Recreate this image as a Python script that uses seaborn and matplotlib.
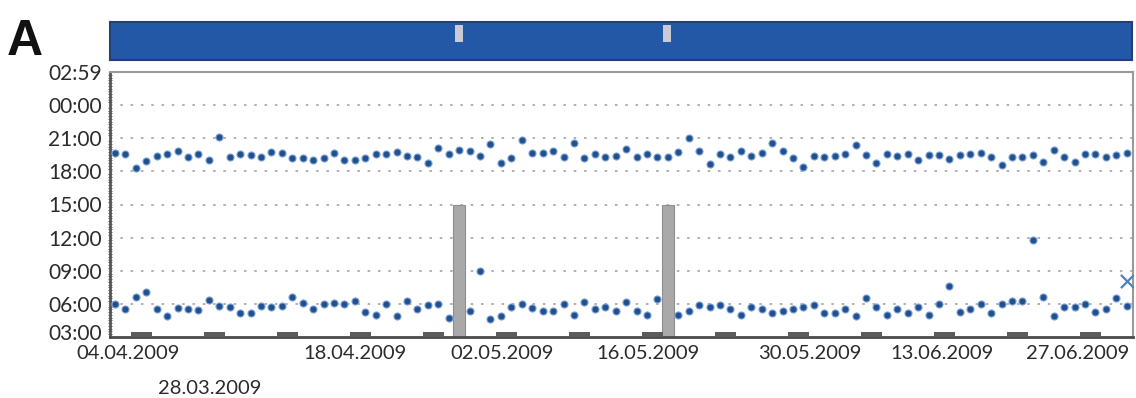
import numpy as np
import pandas as pd
import matplotlib
matplotlib.use("Agg")
import matplotlib.pyplot as plt
import matplotlib.transforms as mtransforms
from matplotlib.patches import Rectangle
import seaborn as sns

# ---------------- data ----------------
start_date = "2009-04-02"          # day index 0
n_days = 98

# evening times (decimal clock hours), day 0 .. 97
upper_times = [19.69, 19.59, 18.31, 18.92, 19.38, 19.53, 19.84, 19.29, 19.59, 19.01,
               21.12, 19.29, 19.59, 19.44, 19.29, 19.78, 19.62, 19.17, 19.17, 19.07,
               19.17, 19.69, 19.07, 19.07, 19.23, 19.59, 19.59, 19.75, 19.38, 19.29,
               18.77, 20.14, 19.59, 19.93, 19.84, 19.38, 20.51, 18.77, 19.17, 20.85,
               19.69, 19.62, 19.84, 19.29, 20.60, 19.17, 19.53, 19.29, 19.38, 19.99,
               19.29, 19.59, 19.29, 19.29, 19.75, 21.00, 19.84, 18.68, 19.59, 19.29,
               19.84, 19.38, 19.69, 20.60, 19.84, 19.17, 18.37, 19.38, 19.29, 19.38,
               19.59, 20.39, 19.47, 18.77, 19.59, 19.38, 19.59, 19.01, 19.47, 19.47,
               19.10, 19.47, 19.53, 19.69, 19.29, 18.55, 19.29, 19.29, 19.47, 18.86,
               19.90, 19.29, 18.86, 19.59, 19.53, 19.29, 19.47, 19.69]

# morning times (decimal clock hours), day 0 .. 97 (nan = no record)
lower_times = [6.00, 5.52, 6.65, 7.06, 5.52, 4.87, 5.61, 5.52, 5.42, 6.32,
               5.84, 5.74, 5.19, 5.19, 5.84, 5.74, 5.84, 6.65, 6.10, 5.52,
               6.00, 6.10, 6.00, 6.23, 5.26, 5.03, 6.00, 4.87, 6.23, 5.52,
               5.90, 6.00, 4.71, np.nan, 5.35, 9.00, 4.61, 4.94, 5.68, 6.00,
               5.60, 5.35, 5.35, 6.00, 5.03, 6.16, 5.52, 5.68, 5.35, 6.16,
               5.35, 5.03, 6.42, np.nan, 5.03, 5.35, 5.90, 5.68, 5.90, 5.52,
               5.03, 5.68, 5.52, 5.19, 5.35, 5.52, 5.68, 5.90, 5.19, 5.19,
               5.52, 4.87, 6.55, 5.74, 5.03, 5.52, 5.19, 5.68, 5.03, 5.95,
               7.61, 5.26, 5.52, 6.00, 5.13, 6.00, 6.23, 6.23, 11.80, 6.65,
               4.94, 5.68, 5.68, 6.00, 5.26, 5.52, 6.55, 5.77]

cross_days = [97]
cross_times = [8.10]

missing_days = [33, 53]
missing_until = 15.0               # grey bar reaches 15:00

day_start_hour = 3.0               # axis starts at 03:00
y_tick_labels = ["03:00", "06:00", "09:00", "12:00", "15:00",
                 "18:00", "21:00", "00:00", "02:59"]

x_tick_labels = ["04.04.2009", "18.04.2009", "02.05.2009", "16.05.2009",
                 "30.05.2009", "13.06.2009", "27.06.2009"]
x_tick_days = [1.25, 23.0, 37.1, 51.1, 66.6, 79.3, 92.3]
x_tick2_label = "28.03.2009"
x_tick2_day = 9.1

# ---------------- styling ----------------
sns.set_style("white")
plt.rcParams["font.family"] = ["Lato", "DejaVu Sans"]
TXT = "#2b2b2b"
DOT = "#22508f"
DOT_EDGE = "#7ea5d8"

fig = plt.figure(figsize=(11.36, 3.98), dpi=100)
L, W = 110 / 1136, 1023 / 1136
ax = fig.add_axes([L, 61 / 398, W, 265 / 398])
axt = fig.add_axes([L, 338 / 398, 1022 / 1136, 38 / 398])

xlim = (-0.48, 97.6)

days = np.arange(n_days)
df = pd.DataFrame({
    "day": np.concatenate([days, days]),
    "y": np.concatenate([np.array(upper_times) - day_start_hour,
                         np.array(lower_times) - day_start_hour]),
})
df = df.dropna()

# grey "missing" bars
ax.bar(missing_days, [missing_until - day_start_hour] * len(missing_days),
       width=1.1, bottom=0, color="#a9a9a9", edgecolor="#8e8e8e", linewidth=0.8, zorder=2)

# weekend markers at bottom
dates = pd.date_range(start_date, periods=n_days, freq="D")
trans = mtransforms.blended_transform_factory(ax.transData, ax.transAxes)
for i, d in enumerate(dates):
    if d.dayofweek == 5:
        ax.add_patch(Rectangle((i - 0.5, 0.0), 2.0, 0.02, transform=trans,
                               facecolor="#5c5c5c", edgecolor="none", zorder=3))

sns.scatterplot(data=df, x="day", y="y", ax=ax, color=DOT, s=26,
                edgecolor=DOT_EDGE, linewidth=0.8, legend=False, zorder=4)
sns.scatterplot(x=cross_days, y=np.array(cross_times) - day_start_hour, ax=ax,
                marker="x", s=90, color="#4f7fc0", linewidth=1.6, legend=False, zorder=5)

ax.set_xlim(*xlim)
ax.set_ylim(0, 24)
ax.set_yticks(np.arange(0, 25, 3) - np.array([0] * 8 + [0.017]))
ax.set_yticklabels(y_tick_labels)
ax.set_yticks(np.arange(0, 24, 0.25), minor=True)
ax.set_xticks(x_tick_days)
ax.set_xticklabels(x_tick_labels)
ax.set_xticks([x_tick2_day], minor=True)
ax.set_xticklabels([x_tick2_label], minor=True)
ax.set_xlabel("")
ax.set_ylabel("")

for yv in range(3, 24, 3):
    ax.axhline(yv, color="#b0b0b0", linewidth=1.4, linestyle=(0, (1.3, 4.0)), zorder=1)

ax.tick_params(axis="y", which="major", length=4, width=1.0, color="#555555",
               pad=2, labelsize=15, labelcolor=TXT, direction="out")
ax.tick_params(axis="y", which="minor", length=2.5, width=0.7, color="#666666",
               direction="inout", left=True)
ax.tick_params(axis="x", which="major", length=0, pad=6, labelsize=14.5, labelcolor=TXT)
ax.tick_params(axis="x", which="minor", length=0, pad=31, labelsize=14.5, labelcolor=TXT)
# lowest hour label sits slightly above the baseline, as in the reference
lab0 = ax.yaxis.get_major_ticks()[0].label1
lab0.set_transform(lab0.get_transform() +
                   mtransforms.ScaledTranslation(0, 4.5 / 100, fig.dpi_scale_trans))

for side, sp in ax.spines.items():
    sp.set_visible(True)
ax.spines["left"].set_color("#555555")
ax.spines["left"].set_linewidth(2.0)
ax.spines["bottom"].set_color("#4a4a4a")
ax.spines["bottom"].set_linewidth(2.0)
ax.spines["top"].set_color("#9a9a9a")
ax.spines["top"].set_linewidth(1.5)
ax.spines["right"].set_color("#9a9a9a")
ax.spines["right"].set_linewidth(1.5)

# top strip
axt.set_xlim(*xlim)
axt.set_ylim(0, 1)
axt.set_facecolor("#2358a6")
axt.bar(missing_days, [0.44] * len(missing_days), width=0.75, bottom=0.48,
        color="#c9cad6", edgecolor="none")
axt.set_xticks([])
axt.set_yticks([])
for sp in axt.spines.values():
    sp.set_visible(True)
    sp.set_color("#253f72")
    sp.set_linewidth(1.5)

fig.text(7 / 1136, (398 - 55) / 398, "A", fontsize=36, fontweight="bold",
         family=["Liberation Sans", "DejaVu Sans"], color="#111111", va="baseline")

fig.savefig("out.png", dpi=100, facecolor="white")
